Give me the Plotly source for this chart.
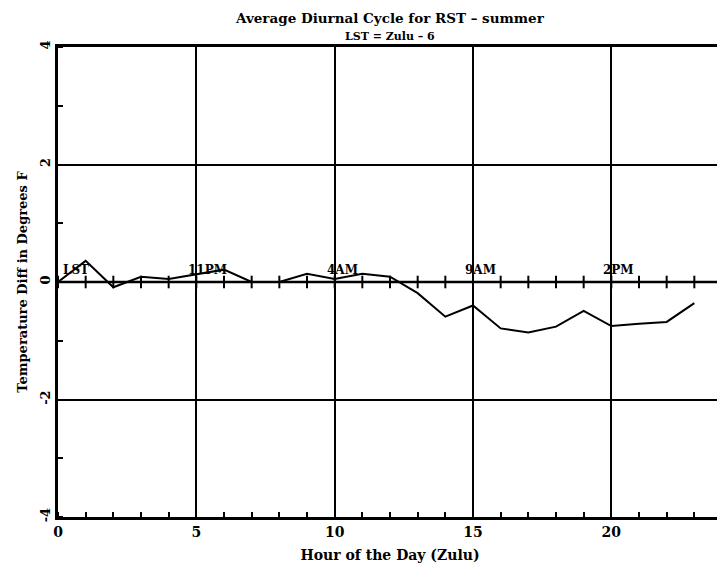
import plotly.graph_objects as go

hours = list(range(24))
temp_diff = [0.0, 0.36, -0.09, 0.09, 0.05, 0.13, 0.21, 0.0, 0.0, 0.14, 0.05, 0.14,
             0.09, -0.19, -0.59, -0.40, -0.79, -0.86, -0.76, -0.49, -0.75, -0.71, -0.68, -0.36]
label_hours = [0, 5, 10, 15, 20]
label_texts = ["LST", "11PM", "4AM", "9AM", "2PM"]
x_ticks = [0, 5, 10, 15, 20]
y_ticks = [-4, -2, 0, 2, 4]

FONT = "DejaVu Serif"

fig = go.Figure()
fig.add_trace(go.Scatter(x=hours, y=temp_diff, mode="lines",
                         line=dict(color="black", width=2), showlegend=False))
# tick marks along zero line
fig.add_trace(go.Scatter(x=hours, y=[0] * len(hours), mode="markers",
                         marker=dict(symbol="line-ns-open", size=9, color="black",
                                     line=dict(color="black", width=2)),
                         showlegend=False, hoverinfo="skip"))

fig.add_shape(type="line", xref="paper", yref="y", x0=0, x1=1, y0=0, y1=0,
              line=dict(color="black", width=2.5), layer="below")

for h, t in zip(label_hours, label_texts):
    fig.add_annotation(x=h, y=0, text="<b>" + t + "</b>", showarrow=False,
                       xanchor="left", yanchor="bottom",
                       xshift=(3 if h == 0 else -10), yshift=3,
                       font=dict(family=FONT, size=12, color="black"))

fig.add_annotation(x=0.5, y=1, xref="paper", yref="paper", yanchor="bottom",
                   yshift=19, showarrow=False,
                   text="<b>Average Diurnal Cycle for RST – summer</b>",
                   font=dict(family=FONT, size=13.5, color="black"))
fig.add_annotation(x=0.5, y=1, xref="paper", yref="paper", yanchor="bottom",
                   yshift=2, showarrow=False,
                   text="<b>LST = Zulu – 6</b>",
                   font=dict(family=FONT, size=11, color="black"))

fig.update_layout(
    width=717, height=567,
    margin=dict(l=50, r=3, t=39, b=58),
    plot_bgcolor="white", paper_bgcolor="white",
    font=dict(family=FONT, size=13, color="black"),
)
fig.update_xaxes(
    automargin=False,
    range=[0, 24], tickvals=x_ticks, ticktext=["<b>%d</b>" % v for v in x_ticks],
    showgrid=True, gridcolor="black", gridwidth=2,
    showline=True, linecolor="black", linewidth=2.5, mirror=True,
    ticks="", zeroline=False,
    minor=dict(ticks="inside", dtick=1, ticklen=5, tickcolor="black", tickwidth=2, showgrid=False),
    title=dict(text="<b>Hour of the Day (Zulu)</b>", font=dict(family=FONT, size=14), standoff=12),
    tickfont=dict(family=FONT, size=14),
)
fig.update_yaxes(
    automargin=False,
    range=[-4, 4], tickvals=y_ticks, ticktext=["<b>%d</b>" % v for v in y_ticks],
    tickangle=-90,
    showgrid=True, gridcolor="black", gridwidth=1.5,
    showline=True, linecolor="black", linewidth=2.5, mirror=True,
    ticks="", zeroline=False,
    minor=dict(ticks="inside", dtick=1, ticklen=5, tickcolor="black", tickwidth=2, showgrid=False),
    title=dict(text="<b>Temperature Diff in Degrees F</b>", font=dict(family=FONT, size=13), standoff=8),
    tickfont=dict(family=FONT, size=13),
)

fig.write_html("out.html")
